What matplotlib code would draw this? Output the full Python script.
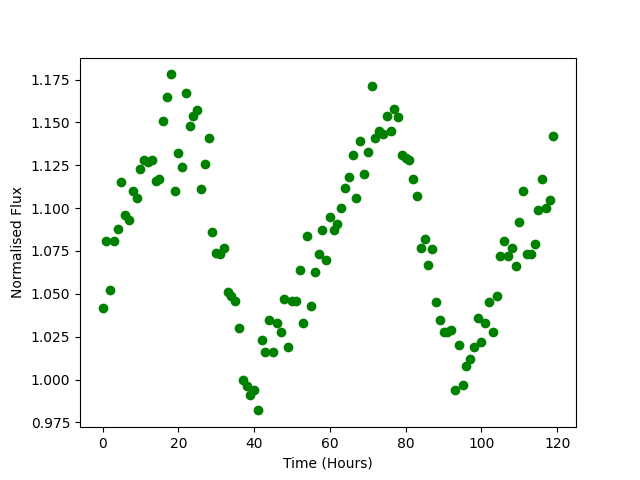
import matplotlib
matplotlib.use("Agg")
import matplotlib.pyplot as plt
import numpy as np

# hourly samples
time_hours = np.arange(120)
flux = [
    1.042, 1.081, 1.052, 1.081, 1.088, 1.115, 1.096, 1.093, 1.110, 1.106,
    1.123, 1.128, 1.127, 1.128, 1.116, 1.117, 1.151, 1.165, 1.178, 1.110,
    1.132, 1.124, 1.167, 1.148, 1.154, 1.157, 1.111, 1.126, 1.141, 1.086,
    1.074, 1.073, 1.077, 1.051, 1.049, 1.046, 1.030, 1.000, 0.996, 0.991,
    0.994, 0.982, 1.023, 1.016, 1.035, 1.016, 1.033, 1.028, 1.047, 1.019,
    1.046, 1.046, 1.064, 1.033, 1.084, 1.043, 1.063, 1.073, 1.087, 1.070,
    1.095, 1.087, 1.091, 1.100, 1.112, 1.118, 1.131, 1.106, 1.139, 1.120,
    1.133, 1.171, 1.141, 1.145, 1.143, 1.154, 1.145, 1.158, 1.153, 1.131,
    1.129, 1.128, 1.117, 1.107, 1.077, 1.082, 1.067, 1.076, 1.045, 1.035,
    1.028, 1.028, 1.029, 0.994, 1.020, 0.997, 1.008, 1.012, 1.019, 1.036,
    1.022, 1.033, 1.045, 1.028, 1.049, 1.072, 1.081, 1.072, 1.077, 1.066,
    1.092, 1.110, 1.073, 1.073, 1.079, 1.099, 1.117, 1.100, 1.105, 1.142,
]

plt.figure(figsize=(6.4, 4.8), dpi=100)
plt.plot(time_hours, flux, 'go')
plt.xlabel("Time (Hours)")
plt.ylabel("Normalised Flux")
plt.savefig("out.png")
plt.close()
